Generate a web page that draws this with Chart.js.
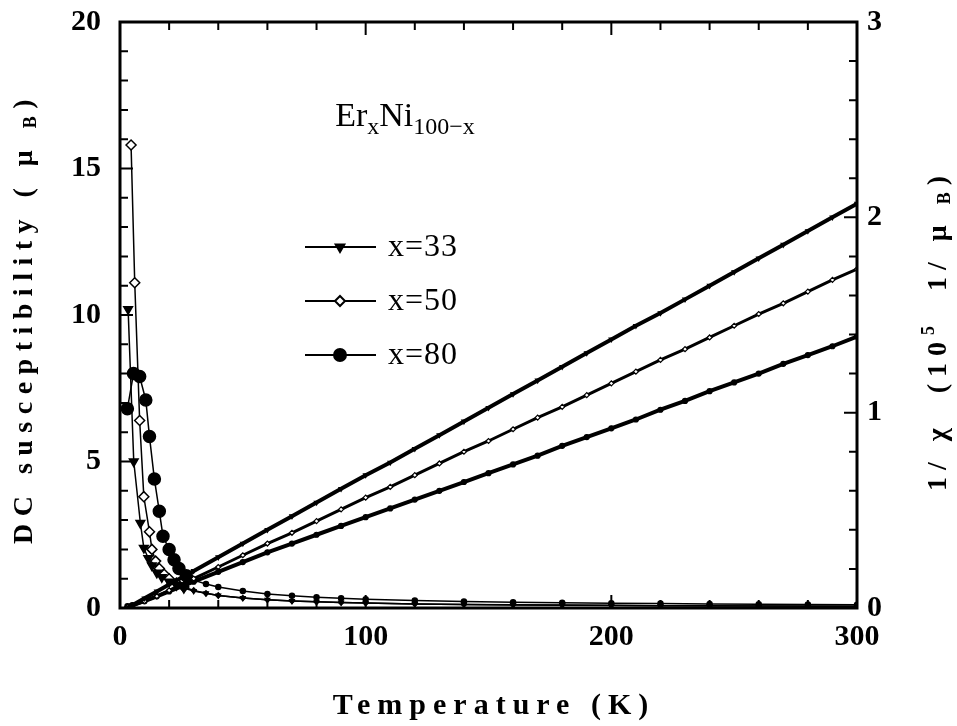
<!DOCTYPE html>
<html>
<head>
<meta charset="utf-8">
<script src="https://cdn.jsdelivr.net/npm/chart.js@4.4.1/dist/chart.umd.min.js"></script>
<style>
  html, body { margin: 0; padding: 0; background: #fff; }
  canvas { display: block; }
</style>
</head>
<body>
<canvas id="chart" width="957" height="726"></canvas>
<script>
// susceptibility chi (left axis)
const temps33 = [3.3, 5.6, 8.3, 9.7, 11.5, 13, 15, 17, 20, 23, 26, 30, 35, 40, 50, 60, 70, 80, 90, 100, 120, 140, 160, 180, 200, 220, 240, 260, 280, 300];
const chi33 = [10.2, 5.0, 2.9, 2.05, 1.7, 1.45, 1.2, 1.05, 0.9, 0.78, 0.68, 0.58, 0.5, 0.43, 0.34, 0.28, 0.24, 0.21, 0.19, 0.17, 0.14, 0.12, 0.105, 0.095, 0.085, 0.078, 0.072, 0.066, 0.062, 0.058];

const temps50 = [4.5, 6, 8, 9.7, 12, 13, 14.5, 16, 18, 20, 23, 26, 30, 35, 40, 50, 60, 70, 80, 90, 100, 120, 140, 160, 180, 200, 220, 240, 260, 280, 300];
const chi50 = [15.8, 11.1, 6.4, 3.8, 2.6, 2.0, 1.6, 1.35, 1.15, 1.0, 0.85, 0.72, 0.6, 0.5, 0.43, 0.34, 0.28, 0.24, 0.21, 0.19, 0.17, 0.14, 0.12, 0.11, 0.1, 0.09, 0.08, 0.075, 0.07, 0.065, 0.06];

const temps80 = [3, 5.5, 8, 10.5, 12, 14, 16, 17.5, 20, 22, 24, 27, 30, 35, 40, 50, 60, 70, 80, 90, 100, 120, 140, 160, 180, 200, 220, 240, 260, 280, 300];
const chi80 = [6.8, 8.0, 7.9, 7.1, 5.85, 4.4, 3.3, 2.45, 2.0, 1.65, 1.35, 1.1, 0.95, 0.82, 0.72, 0.58, 0.48, 0.42, 0.37, 0.33, 0.3, 0.26, 0.22, 0.2, 0.18, 0.16, 0.15, 0.14, 0.13, 0.12, 0.11];

// inverse susceptibility 1/chi (right axis)
const invTemps = [3, 5, 10, 15, 20, 30, 40, 50, 60, 70, 80, 90, 100, 110, 120, 130, 140, 150, 160, 170, 180, 190, 200, 210, 220, 230, 240, 250, 260, 270, 280, 290, 300];
const inv33 = [0.0, 0.014, 0.05, 0.085, 0.12, 0.19, 0.26, 0.33, 0.4, 0.47, 0.54, 0.61, 0.68, 0.745, 0.815, 0.885, 0.955, 1.025, 1.095, 1.165, 1.235, 1.305, 1.375, 1.445, 1.51, 1.58, 1.65, 1.72, 1.79, 1.86, 1.93, 2.0, 2.07];
const inv50 = [0.005, 0.01, 0.035, 0.06, 0.09, 0.15, 0.21, 0.27, 0.33, 0.385, 0.445, 0.505, 0.565, 0.62, 0.68, 0.74, 0.8, 0.855, 0.915, 0.975, 1.03, 1.09, 1.15, 1.21, 1.27, 1.325, 1.385, 1.445, 1.505, 1.56, 1.62, 1.68, 1.735];
const inv80 = [0.01, 0.015, 0.035, 0.06, 0.085, 0.135, 0.185, 0.235, 0.285, 0.33, 0.375, 0.42, 0.465, 0.51, 0.555, 0.6, 0.645, 0.69, 0.735, 0.78, 0.83, 0.875, 0.92, 0.965, 1.015, 1.06, 1.11, 1.155, 1.2, 1.25, 1.295, 1.34, 1.39];

const seriesNames = ["x=33", "x=50", "x=80"];
const xTicks = [0, 100, 200, 300];
const yTicks = [0, 5, 10, 15, 20];
const y2Ticks = [0, 1, 2, 3];

const pts = (xs, ys) => xs.map((t, i) => ({ x: t, y: ys[i] }));

const styles = [
  { pointStyle: "triangle", rotation: 180, backgroundColor: "#000" },
  { pointStyle: "rectRot", rotation: 0, backgroundColor: "#fff" },
  { pointStyle: "circle", rotation: 0, backgroundColor: "#000" }
];

function chiSet(i, xs, ys) {
  return {
    label: seriesNames[i],
    data: pts(xs, ys),
    yAxisID: "y",
    borderColor: "#000",
    borderWidth: 1.5,
    pointStyle: styles[i].pointStyle,
    rotation: styles[i].rotation,
    pointBackgroundColor: styles[i].backgroundColor,
    pointBorderColor: "#000",
    pointBorderWidth: 1.5,
    pointRadius: c => (c.raw && c.raw.x < 30 ? (i === 2 ? 6 : 5) : 2.5)
  };
}

function invSet(i, ys) {
  return {
    label: seriesNames[i] + " inv",
    data: pts(invTemps, ys),
    yAxisID: "y2",
    borderColor: "#000",
    borderWidth: i === 1 ? 3 : 4,
    pointStyle: styles[i].pointStyle,
    rotation: styles[i].rotation,
    pointBackgroundColor: styles[i].backgroundColor,
    pointBorderColor: "#000",
    pointBorderWidth: 1.2,
    pointRadius: 2.5
  };
}

// draw a run of text pieces (sub/superscripts) centred on 0,0
function drawRich(ctx, parts, spacing) {
  ctx.letterSpacing = spacing + "px";
  let w = 0;
  parts.forEach(p => { ctx.font = p.font; p.w = ctx.measureText(p.t).width; w += p.w; });
  let x = -w / 2;
  parts.forEach(p => {
    ctx.font = p.font;
    ctx.fillText(p.t, x, p.dy || 0);
    x += p.w;
  });
  ctx.letterSpacing = "0px";
}

const decor = {
  id: "decor",
  afterDraw(chart) {
    const { ctx, chartArea: a, scales } = chart;
    ctx.save();
    ctx.strokeStyle = "#000";
    ctx.fillStyle = "#000";

    // frame
    ctx.lineWidth = 3;
    ctx.strokeRect(a.left, a.top, a.right - a.left, a.bottom - a.top);

    // inward ticks
    ctx.lineWidth = 2;
    ctx.beginPath();
    for (let v = 0; v <= 300; v += 20) {
      const px = scales.x.getPixelForValue(v);
      const len = v % 100 === 0 ? 13 : 8;
      ctx.moveTo(px, a.bottom); ctx.lineTo(px, a.bottom - len);
      ctx.moveTo(px, a.top); ctx.lineTo(px, a.top + len);
    }
    for (let v = 0; v <= 20; v += 1) {
      const py = scales.y.getPixelForValue(v);
      const len = v % 5 === 0 ? 13 : 8;
      ctx.moveTo(a.left, py); ctx.lineTo(a.left + len, py);
    }
    for (let k = 0; k <= 15; k++) {
      const v = k * 0.2;
      const py = scales.y2.getPixelForValue(v);
      const len = k % 5 === 0 ? 13 : 8;
      ctx.moveTo(a.right, py); ctx.lineTo(a.right - len, py);
    }
    ctx.stroke();

    ctx.textBaseline = "alphabetic";
    ctx.textAlign = "left";

    // compound name
    ctx.save();
    ctx.translate(405, 126);
    drawRich(ctx, [
      { t: "Er", font: "34px 'Liberation Serif'" },
      { t: "x", font: "24px 'Liberation Serif'", dy: 8 },
      { t: "Ni", font: "34px 'Liberation Serif'" },
      { t: "100\u2212x", font: "24px 'Liberation Serif'", dy: 8 }
    ], 0);
    ctx.restore();

    // legend
    const rows = [247, 301, 355];
    rows.forEach((ly, i) => {
      ctx.lineWidth = 2;
      ctx.beginPath();
      ctx.moveTo(305, ly); ctx.lineTo(376, ly);
      ctx.stroke();
      ctx.fillStyle = styles[i].backgroundColor;
      ctx.strokeStyle = "#000";
      Chart.helpers.drawPoint(ctx, {
        pointStyle: styles[i].pointStyle,
        rotation: styles[i].rotation,
        radius: i === 2 ? 6 : 5,
        borderWidth: 1.5
      }, 340, ly);
      ctx.fillStyle = "#000";
      ctx.font = "32px 'Liberation Serif'";
      ctx.textBaseline = "middle";
      ctx.letterSpacing = "1px";
      ctx.fillText(seriesNames[i], 388, ly + 1);
      ctx.letterSpacing = "0px";
      ctx.textBaseline = "alphabetic";
    });

    // axis titles
    const bold = s => "bold " + s + "px 'Liberation Serif'";
    ctx.save();
    ctx.translate(494, 714);
    drawRich(ctx, [{ t: "Temperature (K)", font: bold(30) }], 7);
    ctx.restore();

    ctx.save();
    ctx.translate(32, 318);
    ctx.rotate(-Math.PI / 2);
    drawRich(ctx, [
      { t: "DC susceptibility ( \u03bc ", font: bold(28) },
      { t: "B", font: bold(18), dy: 4 },
      { t: ")", font: bold(28) }
    ], 7.5);
    ctx.restore();

    ctx.save();
    ctx.translate(946, 330);
    ctx.rotate(-Math.PI / 2);
    drawRich(ctx, [
      { t: "1/ \u03c7  (10", font: bold(28) },
      { t: "5", font: bold(18), dy: -12 },
      { t: "  1/ \u03bc ", font: bold(28) },
      { t: "B", font: bold(18), dy: 4 },
      { t: ")", font: bold(28) }
    ], 7);
    ctx.restore();

    ctx.restore();
  }
};

const tickFont = { family: "'Liberation Serif'", weight: "bold", size: 30 };

new Chart(document.getElementById("chart"), {
  type: "line",
  data: {
    datasets: [
      invSet(0, inv33), invSet(1, inv50), invSet(2, inv80),
      chiSet(0, temps33, chi33), chiSet(1, temps50, chi50), chiSet(2, temps80, chi80)
    ]
  },
  options: {
    responsive: false,
    devicePixelRatio: 1,
    animation: false,
    layout: { padding: { top: 22, left: 0, right: 0, bottom: 0 } },
    plugins: { legend: { display: false }, tooltip: { enabled: false } },
    elements: { line: { tension: 0 } },
    scales: {
      x: {
        type: "linear", min: 0, max: 300,
        afterBuildTicks: s => { s.ticks = xTicks.map(v => ({ value: v })); },
        afterFit: s => { s.height = 118; s.paddingLeft = 0; s.paddingRight = 0; },
        ticks: { font: tickFont, color: "#000", padding: 11, maxRotation: 0 },
        grid: { display: false, drawTicks: false },
        border: { display: false }
      },
      y: {
        position: "left", min: 0, max: 20,
        afterBuildTicks: s => { s.ticks = yTicks.map(v => ({ value: v })); },
        afterFit: s => { s.width = 120; s.paddingTop = 0; s.paddingBottom = 0; },
        ticks: { font: tickFont, color: "#000", padding: 19 },
        grid: { display: false, drawTicks: false },
        border: { display: false }
      },
      y2: {
        position: "right", min: 0, max: 3,
        afterBuildTicks: s => { s.ticks = y2Ticks.map(v => ({ value: v })); },
        afterFit: s => { s.width = 100; s.paddingTop = 0; s.paddingBottom = 0; },
        ticks: { font: tickFont, color: "#000", padding: 10 },
        grid: { display: false, drawTicks: false },
        border: { display: false }
      }
    }
  },
  plugins: [decor]
});
</script>
</body>
</html>
